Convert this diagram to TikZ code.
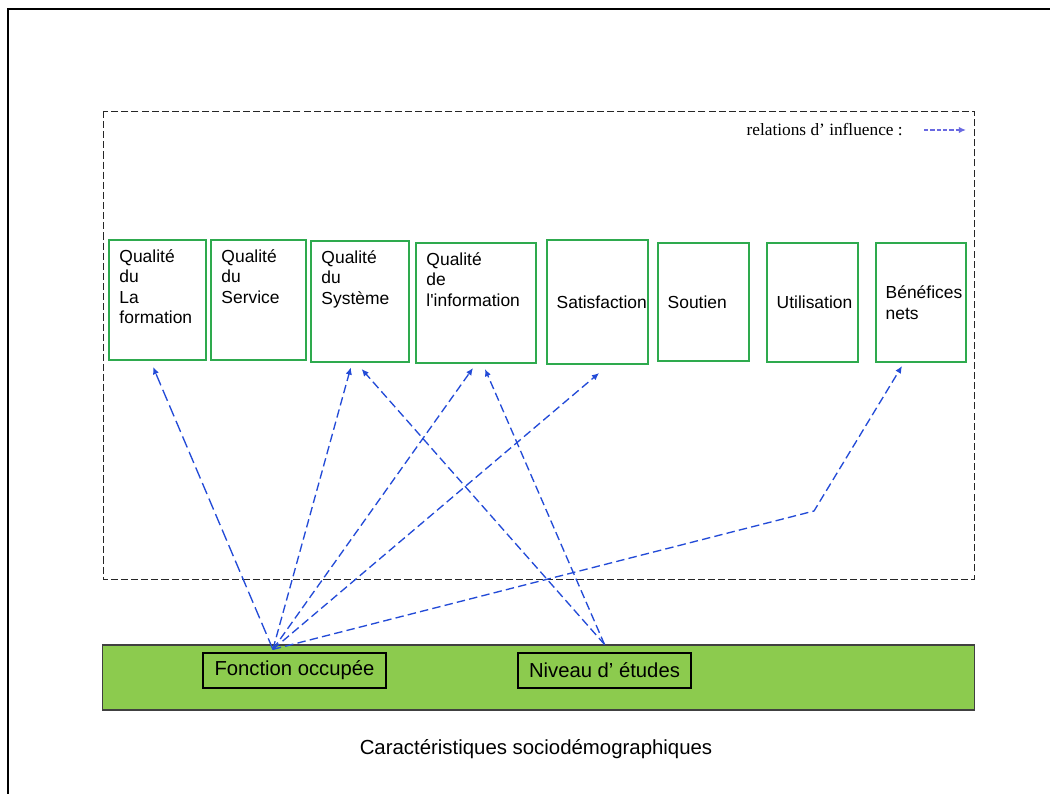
\documentclass[tikz,border=0pt]{standalone}
\usepackage{fontspec}
\setmainfont{Liberation Sans}
\newfontfamily\legendfont{Liberation Serif}
\usetikzlibrary{arrows.meta}

\definecolor{boxgreen}{RGB}{46,170,78}
\definecolor{barfill}{RGB}{140,203,78}
\definecolor{linkblue}{RGB}{35,75,215}
\definecolor{legendblue}{RGB}{105,105,225}

\begin{document}
\begin{tikzpicture}[x=0.025cm, y=-0.025cm,
  qbox/.style={draw=boxgreen, line width=1.4pt, minimum height=3cm, inner sep=0pt},
  qtext/.style={anchor=north west, align=left, inner sep=0pt, font=\fontsize{12.4}{14.6}\selectfont, xshift=0.28cm, yshift=-0.25cm},
  mtext/.style={anchor=west, align=left, inner sep=0pt, font=\fontsize{12.4}{14.6}\selectfont, xshift=0.26cm},
  sbox/.style={draw=black, line width=0.9pt, minimum height=0.875cm, inner sep=0pt, font=\fontsize{14.4}{16}\selectfont},
  link/.style={draw=linkblue, line width=0.95pt, dash pattern=on 6pt off 3pt, -{Latex[length=1.8mm, width=1.6mm]}},
  zone/.style={draw=black!85, line width=0.7pt, dash pattern=on 5pt off 2.2pt}]
  \useasboundingbox (0,0) rectangle (1050,794);
  % page frame
  \draw[line width=1.3pt] (1050,9) -- (8,9) -- (8,794);
  % influence zone + legend
  \draw[zone] (103,111) rectangle (974,579);
  \node[anchor=east, inner sep=0pt, font=\legendfont\fontsize{12.3}{14}\selectfont] (legend) at (903,130) {relations d’ influence :};
  \coordinate (lgA) at (924,130);
  \coordinate (lgB) at (966,130);
  \draw[draw=legendblue, line width=1pt, dash pattern=on 3pt off 1.5pt, -{Latex[length=1.8mm, width=1.6mm]}] (lgA) -- (lgB);

  % the eight dimensions
  \node[qbox, minimum width=2.425cm, label={[qtext]north west:Qualité\\du\\La\\formation}] (qf) at (157.5,300) {};
  \node[qbox, minimum width=2.375cm, label={[qtext]north west:Qualité\\du\\Service}] (qs) at (258.5,300) {};
  \node[qbox, minimum width=2.45cm, minimum height=3.025cm, label={[qtext]north west:Qualité\\du\\Système}] (qsy) at (360,301.5) {};
  \node[qbox, minimum width=3cm, label={[qtext]north west:Qualité\\de\\l\textquotesingle information}] (qi) at (476,303) {};
  \node[qbox, minimum width=2.525cm, minimum height=3.1cm, label={[mtext]west:Satisfaction}] (sat) at (597.5,302) {};
  \node[qbox, minimum width=2.275cm, minimum height=2.95cm, label={[mtext]west:Soutien}] (sou) at (703.5,302) {};
  \node[qbox, minimum width=2.275cm, minimum height=2.975cm, label={[mtext]west:Utilisation}] (uti) at (812.5,302.5) {};
  \node[qbox, minimum width=2.25cm, minimum height=2.975cm, label={[mtext]west:Bénéfices\\nets}] (ben) at (921,302.5) {};

  % sociodemographic bar
  \node[draw=black!75, line width=0.8pt, fill=barfill, minimum width=21.775cm, minimum height=1.625cm] (bar) at (538.5,677.5) {};
  \node[sbox, minimum width=4.575cm] (fonction) at (294.5,670.5) {Fonction occupée};
  \node[sbox, minimum width=4.325cm] (niveau) at (604.5,670.5) {Niveau d’ études};
  \node[font=\fontsize{14.5}{17}\selectfont] (caption) at (536,749) {Caractéristiques sociodémographiques};

  % influences
  \coordinate (fo) at ([xshift=-0.54cm,yshift=0.075cm]fonction.north);
  \coordinate (ne) at (niveau.north |- bar.north);
  \coordinate (bend) at (814,511);
  \draw[link, dash pattern=on 8.5pt off 3.5pt] (fo) -- ([xshift=-0.11cm,yshift=-0.15cm]qf.south);
  \draw[link] (fo) -- ([xshift=-0.23cm,yshift=-0.11cm]qsy.south);
  \draw[link] (fo) -- ([xshift=-0.075cm,yshift=-0.1cm]qi.south);
  \draw[link] (fo) -- ([xshift=0.04cm,yshift=-0.2cm]sat.south);
  \draw[link] (fo) -- (bend) -- ([xshift=-0.475cm,yshift=-0.075cm]ben.south);
  \draw[link] (ne) -- ([xshift=0.04cm,yshift=-0.15cm]qsy.south);
  \draw[link] (ne) -- ([xshift=0.225cm,yshift=-0.125cm]qi.south);
\end{tikzpicture}
\end{document}
